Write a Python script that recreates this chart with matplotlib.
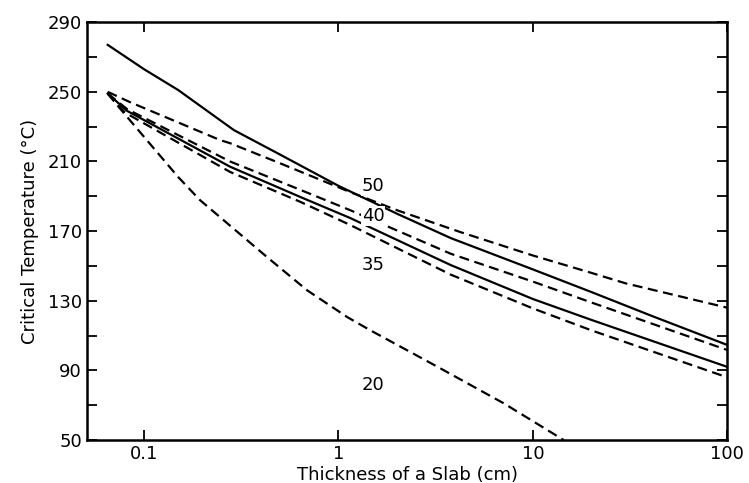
import matplotlib
matplotlib.use("Agg")
from matplotlib import pyplot as plt
from matplotlib.ticker import FixedLocator, NullLocator

# curves: thickness (cm) vs critical temperature (C)
x_50_solid = [0.065, 0.1, 0.15, 0.29, 0.5, 1, 2, 3.78, 10, 20, 41.5, 100]
y_50_solid = [277, 263, 251, 228, 214, 196, 180, 166, 148, 135, 121, 104.6]

x_50_dash = [0.065, 0.085, 0.246, 0.277, 0.5, 1.15, 2, 4.25, 10, 20, 30, 100]
y_50_dash = [250, 244, 222.3, 220.5, 209, 192.4, 182, 169.4, 156, 146, 140, 126]

x_40_dash = [0.065, 0.082, 0.277, 0.64, 1.15, 3.78, 10, 20, 100]
y_40_dash = [249, 240, 210, 193.6, 182, 157, 141, 129, 101.7]

x_35_solid = [0.065, 0.082, 0.277, 0.64, 1.15, 3.78, 10, 20, 100]
y_35_solid = [249, 239, 207, 189.5, 177.5, 150.5, 131, 119, 92]

x_35_dash = [0.065, 0.08, 0.277, 0.64, 1.15, 3.78, 10, 20, 100]
y_35_dash = [249, 238, 204, 186.7, 173.5, 145, 125.6, 113, 86]

x_20_dash = [0.065, 0.078, 0.15, 0.194, 0.43, 0.69, 1.11, 1.46, 3.24, 7.1, 14.4]
y_20_dash = [249, 238.3, 201, 187.8, 155, 136, 120.6, 113, 92, 71, 50]

curve_labels = ["50", "40", "35", "20"]
label_y = [196, 178.6, 150.5, 81.6]

x_ticks = [0.1, 1, 10, 100]
x_ticklabels = ["0.1", "1", "10", "100"]
y_ticks = [50, 90, 130, 170, 210, 250, 290]
y_minor = [70, 110, 150, 190, 230, 270]

fig = plt.figure(figsize=(7.49, 4.83), dpi=100)
ax = fig.add_axes([0.116, 0.089, 0.855, 0.865])

dash = (0, (4.5, 2.5))
lw = 1.6
ax.plot(x_50_solid, y_50_solid, color="black", lw=lw)
ax.plot(x_50_dash, y_50_dash, color="black", lw=lw, linestyle=dash)
ax.plot(x_40_dash, y_40_dash, color="black", lw=lw, linestyle=dash)
ax.plot(x_35_solid, y_35_solid, color="black", lw=lw)
ax.plot(x_35_dash, y_35_dash, color="black", lw=lw, linestyle=dash)
ax.plot(x_20_dash, y_20_dash, color="black", lw=lw, linestyle=dash)

for lab, ly in zip(curve_labels, label_y):
    ax.text(1.51, ly, lab, fontsize=13, ha="center", va="center",
            bbox=dict(facecolor="white", edgecolor="none", pad=0.5))

ax.set_xscale("log")
ax.set_xlim(0.0508, 100)
ax.set_ylim(50, 290)

ax.xaxis.set_major_locator(FixedLocator(x_ticks))
ax.xaxis.set_minor_locator(NullLocator())
ax.set_xticklabels(x_ticklabels)
ax.yaxis.set_major_locator(FixedLocator(y_ticks))
ax.yaxis.set_minor_locator(FixedLocator(y_minor))

ax.tick_params(which="both", direction="in", top=True, right=True,
               length=7, width=1.3, labelsize=13)
for s in ax.spines.values():
    s.set_linewidth(1.8)

ax.set_xlabel("Thickness of a Slab (cm)", fontsize=13, labelpad=2)
ax.set_ylabel("Critical Temperature (°C)", fontsize=13, labelpad=6)

fig.savefig("out.png", dpi=100)
